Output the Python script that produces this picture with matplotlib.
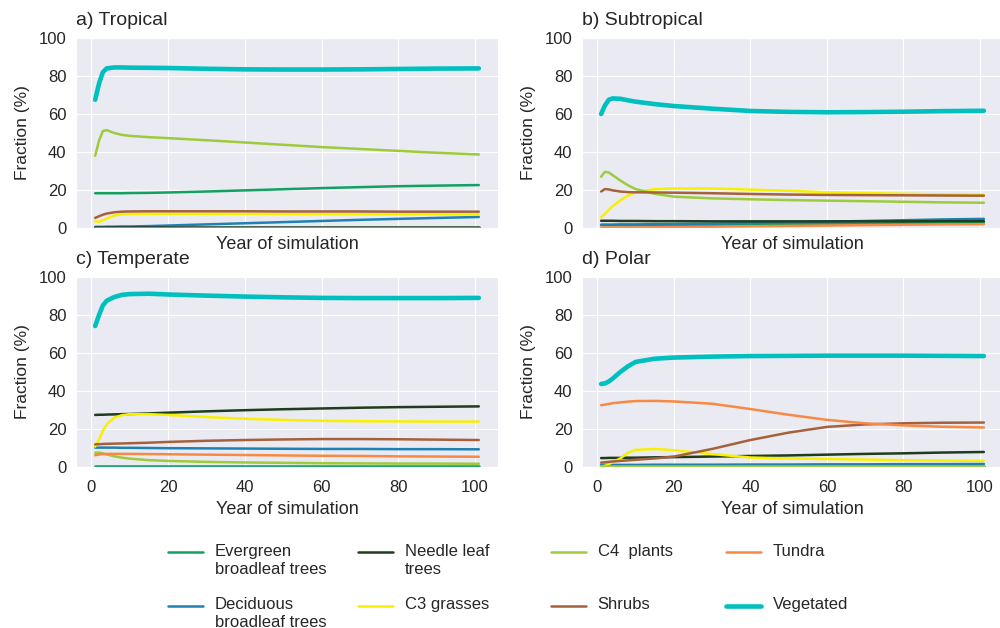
import matplotlib
matplotlib.use('Agg')
import matplotlib.pyplot as plt
import seaborn as sns

sns.set_style('darkgrid')
plt.rcParams['font.family'] = ['Liberation Sans', 'DejaVu Sans']

# ---------------- data ----------------
years = [1, 2, 3, 4, 6, 8, 10, 15, 20, 30, 40, 50, 60, 70, 80, 90, 101]

series_names = ['Evergreen\nbroadleaf trees', 'Deciduous\nbroadleaf trees',
                'Needle leaf\ntrees', 'C3 grasses', 'C4  plants', 'Shrubs',
                'Tundra', 'Vegetated']
series_colors = ['#13a063', '#1f80b3', '#1f3d1c', '#f7f000', '#9dcb3c',
                 '#a5613c', '#f68a45', '#00bfbf']

# a) Tropical
eg_a = [18.3, 18.3, 18.3, 18.3, 18.3, 18.3, 18.4, 18.5, 18.7, 19.2, 19.8, 20.4, 21.0, 21.5, 22.0, 22.3, 22.6]
dec_a = [0.6, 0.6, 0.6, 0.7, 0.7, 0.8, 0.8, 1.0, 1.3, 1.9, 2.5, 3.1, 3.7, 4.3, 4.8, 5.3, 5.8]
ndl_a = [0.5, 0.5, 0.5, 0.5, 0.5, 0.5, 0.5, 0.5, 0.5, 0.5, 0.5, 0.5, 0.5, 0.5, 0.5, 0.5, 0.5]
c3_a = [3.6, 3.3, 4.0, 5.0, 6.6, 7.2, 7.4, 7.5, 7.5, 7.5, 7.4, 7.4, 7.3, 7.3, 7.2, 7.2, 7.2]
c4_a = [38.0, 46.0, 51.0, 51.5, 50.0, 49.0, 48.5, 47.8, 47.3, 46.2, 45.0, 43.8, 42.6, 41.6, 40.6, 39.6, 38.7]
shr_a = [5.3, 6.2, 7.0, 7.6, 8.3, 8.6, 8.7, 8.8, 8.8, 8.8, 8.8, 8.7, 8.7, 8.7, 8.6, 8.6, 8.6]
tun_a = [0.2, 0.2, 0.2, 0.2, 0.2, 0.2, 0.2, 0.2, 0.2, 0.2, 0.2, 0.2, 0.2, 0.2, 0.2, 0.2, 0.2]
veg_a = [67.5, 76.0, 82.0, 84.0, 84.5, 84.5, 84.4, 84.3, 84.2, 83.8, 83.5, 83.4, 83.4, 83.5, 83.7, 83.9, 84.0]

# b) Subtropical
eg_b = [1.5, 1.5, 1.5, 1.5, 1.5, 1.5, 1.5, 1.6, 1.6, 1.7, 1.9, 2.0, 2.2, 2.4, 2.5, 2.7, 2.8]
dec_b = [1.8, 1.8, 1.8, 1.8, 1.9, 1.9, 1.9, 2.0, 2.1, 2.3, 2.6, 2.9, 3.3, 3.7, 4.1, 4.5, 4.8]
ndl_b = [3.8, 3.8, 3.8, 3.8, 3.7, 3.7, 3.7, 3.6, 3.6, 3.5, 3.5, 3.5, 3.5, 3.5, 3.5, 3.6, 3.6]
c3_b = [5.6, 7.5, 9.5, 11.5, 14.5, 17.0, 18.8, 20.4, 20.8, 20.8, 20.2, 19.6, 18.8, 18.4, 18.0, 17.7, 17.5]
c4_b = [27.0, 29.6, 29.2, 27.8, 25.0, 22.5, 20.5, 18.0, 16.5, 15.6, 15.1, 14.7, 14.4, 14.1, 13.8, 13.5, 13.3]
shr_b = [19.2, 20.5, 20.3, 19.8, 19.2, 18.9, 18.8, 18.7, 18.6, 18.3, 17.9, 17.6, 17.4, 17.3, 17.2, 17.1, 17.0]
tun_b = [0.3, 0.3, 0.3, 0.3, 0.3, 0.3, 0.3, 0.4, 0.5, 0.7, 0.9, 1.1, 1.3, 1.5, 1.7, 1.9, 2.0]
veg_b = [60.0, 64.5, 67.5, 68.2, 68.0, 67.2, 66.5, 65.2, 64.2, 62.8, 61.6, 61.1, 60.9, 61.0, 61.2, 61.5, 61.7]

# c) Temperate
eg_c = [0.3, 0.3, 0.3, 0.3, 0.3, 0.3, 0.3, 0.3, 0.3, 0.3, 0.3, 0.3, 0.3, 0.3, 0.3, 0.3, 0.3]
dec_c = [10.2, 10.2, 10.2, 10.2, 10.2, 10.1, 10.1, 10.0, 9.9, 9.8, 9.7, 9.6, 9.5, 9.5, 9.4, 9.4, 9.3]
ndl_c = [27.4, 27.5, 27.5, 27.6, 27.7, 27.8, 27.9, 28.2, 28.6, 29.3, 29.9, 30.4, 30.8, 31.2, 31.5, 31.7, 31.9]
c3_c = [10.7, 14.5, 19.0, 22.5, 26.0, 27.3, 27.8, 27.8, 27.4, 26.3, 25.4, 24.8, 24.3, 24.1, 24.0, 23.9, 23.9]
c4_c = [7.5, 7.6, 7.2, 6.6, 5.6, 4.9, 4.4, 3.6, 3.2, 2.7, 2.4, 2.2, 2.0, 1.9, 1.8, 1.8, 1.7]
shr_c = [11.9, 12.0, 12.1, 12.2, 12.3, 12.4, 12.5, 12.8, 13.2, 13.8, 14.2, 14.5, 14.7, 14.7, 14.6, 14.4, 14.2]
tun_c = [6.2, 6.6, 6.8, 6.9, 6.9, 6.9, 6.9, 6.8, 6.7, 6.5, 6.3, 6.1, 5.9, 5.8, 5.6, 5.5, 5.4]
veg_c = [74.2, 80.0, 85.0, 87.5, 89.5, 90.6, 91.0, 91.2, 90.8, 90.2, 89.7, 89.3, 89.0, 88.9, 88.9, 88.9, 89.0]

# d) Polar
eg_d = [0.5, 0.5, 0.5, 0.5, 0.5, 0.5, 0.5, 0.5, 0.5, 0.5, 0.5, 0.5, 0.5, 0.5, 0.5, 0.5, 0.5]
dec_d = [1.1, 1.1, 1.1, 1.1, 1.1, 1.1, 1.1, 1.2, 1.2, 1.2, 1.3, 1.3, 1.4, 1.4, 1.5, 1.5, 1.6]
ndl_d = [4.7, 4.7, 4.8, 4.8, 4.8, 4.9, 4.9, 5.1, 5.2, 5.5, 5.8, 6.1, 6.5, 6.9, 7.2, 7.6, 7.9]
c3_d = [0.2, 0.6, 1.5, 2.6, 4.5, 7.5, 9.0, 9.5, 8.8, 6.8, 5.0, 4.5, 4.2, 3.9, 3.6, 3.4, 3.2]
c4_d = [0.3, 0.3, 0.3, 0.3, 0.3, 0.3, 0.3, 0.3, 0.3, 0.3, 0.3, 0.3, 0.3, 0.3, 0.3, 0.3, 0.3]
shr_d = [2.3, 2.5, 2.7, 2.9, 3.2, 3.5, 3.8, 4.5, 5.5, 9.5, 14.2, 18.1, 21.1, 22.4, 23.0, 23.3, 23.4]
tun_d = [32.5, 32.8, 33.2, 33.6, 34.0, 34.4, 34.7, 34.8, 34.5, 33.3, 30.5, 27.5, 24.8, 23.0, 21.9, 21.2, 20.8]
veg_d = [43.7, 44.0, 45.0, 46.5, 50.0, 53.0, 55.3, 57.0, 57.6, 58.1, 58.4, 58.5, 58.6, 58.6, 58.6, 58.5, 58.4]

panel_titles = ['a) Tropical', 'b) Subtropical', 'c) Temperate', 'd) Polar']
panel_data = [
    [eg_a, dec_a, ndl_a, c3_a, c4_a, shr_a, tun_a, veg_a],
    [eg_b, dec_b, ndl_b, c3_b, c4_b, shr_b, tun_b, veg_b],
    [eg_c, dec_c, ndl_c, c3_c, c4_c, shr_c, tun_c, veg_c],
    [eg_d, dec_d, ndl_d, c3_d, c4_d, shr_d, tun_d, veg_d],
]
x_ticks = [0, 20, 40, 60, 80, 100]
y_ticks = [0, 20, 40, 60, 80, 100]

# ---------------- figure ----------------
W, H = 1000, 628
fig = plt.figure(figsize=(W / 100, H / 100), dpi=100)

boxes = [(76, 38, 498, 228), (582, 38, 1003, 228),
         (76, 277, 498, 467), (582, 277, 1003, 467)]

handles = []
for i, (box, title, data) in enumerate(zip(boxes, panel_titles, panel_data)):
    x0, y0, x1, y1 = box
    ax = fig.add_axes([x0 / W, 1 - y1 / H, (x1 - x0) / W, (y1 - y0) / H])
    for j, (vals, name, col) in enumerate(zip(data, series_names, series_colors)):
        lw = 3.3 if name == 'Vegetated' else 1.8
        ln, = ax.plot(years, vals, color=col, lw=lw, label=name,
                      solid_capstyle='round')
        if i == 0:
            handles.append(ln)
    ax.set_ylim(0, 100)
    ax.set_xticks(x_ticks)
    ax.set_yticks(y_ticks)
    ax.tick_params(labelsize=12, colors='#262626')
    ax.tick_params(axis='x', pad=6)
    ax.set_title(title, loc='left', fontsize=14, color='#262626', pad=9)
    ax.set_ylabel('Fraction (%)', fontsize=12.5, color='#262626', labelpad=6)
    if i < 2:
        ax.tick_params(labelbottom=False)
        ax.set_xlabel('Year of simulation', fontsize=13, color='#262626', labelpad=6)
    else:
        ax.set_xlabel('Year of simulation', fontsize=13, color='#262626', labelpad=4)

# legend: four columns, each label block two lines high, handle level with first line
col_x = [168, 358, 551, 726]
legends = []
for c in range(4):
    hs = handles[2 * c:2 * c + 2]
    labs = [lab if '\n' in lab else lab + '\n ' for lab in series_names[2 * c:2 * c + 2]]
    leg = fig.legend(handles=hs, labels=labs, loc='upper left',
                     bbox_to_anchor=(col_x[c] / W, 1 - 536 / H),
                     frameon=False, fontsize=12, handlelength=2.1,
                     handletextpad=0.7, borderpad=0, borderaxespad=0,
                     labelspacing=1.25, labelcolor='#262626')
    legends.append(leg)

fig.canvas.draw()
renderer = fig.canvas.get_renderer()
for leg in legends:
    for t in leg.get_texts():
        bb = t.get_window_extent(renderer)
        t.set_y(t.get_position()[1] - bb.height / 4.0)

fig.savefig('out.png', dpi=100)
